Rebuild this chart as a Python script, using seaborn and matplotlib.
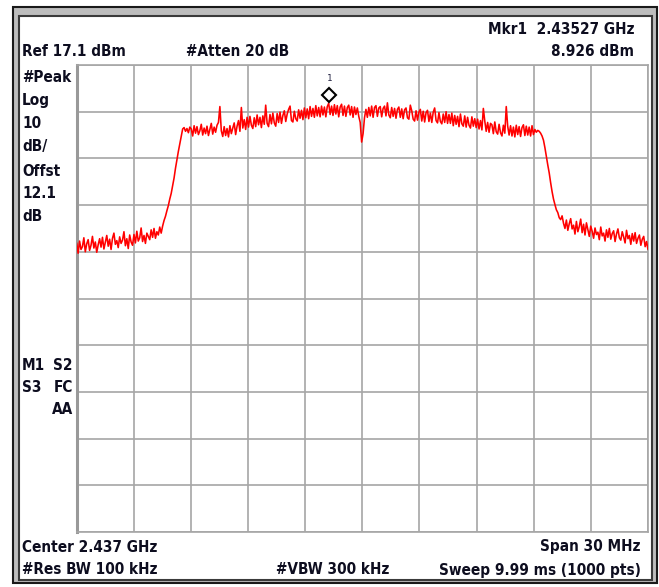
import numpy as np
import pandas as pd
import matplotlib
matplotlib.use('Agg')
import matplotlib.pyplot as plt
import matplotlib.transforms as mtransforms
from matplotlib.patches import Rectangle
from matplotlib import font_manager
import seaborn as sns

# Spectrum analyzer settings
center_ghz = 2.437
span_mhz = 30
ref_dbm = 17.1
db_per_div = 10
mkr_freq = 2.43527
mkr_level = 8.926

# Trace levels in dBm, 400 samples across the span
level = [
    -21.0, -23.2, -20.6, -22.4, -21.8, -19.9, -22.9, -21.2, -20.3, -22.6, -21.5, -19.6, -22.1, -20.8, -23.0, -21.4, -20.1, -21.9, -19.8, -22.3,
    -20.9, -19.4, -21.7, -20.2, -22.4, -20.0, -18.9, -21.3, -20.5, -22.0, -19.7, -21.1, -20.4, -18.6, -21.6, -20.1, -22.2, -19.3, -20.8, -21.5,
    -19.2, -21.0, -18.5, -20.6, -19.9, -17.8, -20.7, -19.4, -21.1, -18.9, -19.6, -20.3, -18.2, -19.8, -17.9, -20.0, -18.6, -19.3, -17.6, -18.9,
    -17.4, -16.2, -15.3, -14.1, -13.0, -11.6, -10.4, -8.8, -7.1, -5.0, -3.2, -1.4, 0.2, 1.9, 3.4, 3.7, 2.9, 3.5, 2.6, 3.8,
    3.4, 1.9, 4.1, 2.5, 3.9, 2.2, 3.0, 4.4, 2.1, 3.6, 2.4, 4.0, 2.0, 3.3, 4.6, 2.3, 3.8, 2.7, 4.2, 4.8,
    8.2, 3.0, 1.8, 3.9, 2.0, 3.5, 1.7, 4.1, 2.4, 3.6, 4.7, 2.2, 4.0, 5.2, 2.9, 8.0, 3.6, 5.4, 3.3, 5.9,
    3.8, 6.1, 4.2, 3.5, 5.8, 3.9, 6.4, 4.3, 5.9, 3.7, 6.2, 4.4, 8.5, 4.6, 3.9, 6.5, 4.5, 6.8, 4.7, 4.0,
    6.7, 4.8, 7.0, 4.6, 6.3, 7.3, 5.0, 6.6, 7.6, 8.3, 5.2, 4.9, 7.2, 5.6, 5.1, 7.5, 5.7, 7.4, 5.4, 7.9,
    5.8, 7.7, 5.6, 8.2, 6.1, 7.8, 5.9, 8.4, 6.2, 8.0, 6.0, 8.3, 6.4, 8.1, 6.0, 8.2, 8.9, 6.5, 8.3, 6.3,
    8.6, 6.6, 8.4, 6.0, 8.1, 8.7, 6.3, 8.3, 6.1, 8.0, 8.5, 6.4, 8.2, 5.9, 8.1, 6.5, 7.9, 6.1, 4.8, 0.6,
    2.4, 5.8, 7.6, 5.9, 8.0, 6.2, 8.3, 5.9, 8.0, 8.4, 6.1, 7.9, 8.2, 6.0, 7.8, 8.3, 6.2, 9.0, 6.4, 5.8,
    8.0, 6.1, 7.8, 5.7, 7.6, 8.1, 5.9, 7.7, 5.6, 7.5, 7.9, 5.8, 5.5, 8.5, 7.3, 5.5, 5.1, 7.3, 5.3, 7.0,
    7.6, 5.1, 7.2, 4.9, 6.9, 7.4, 5.0, 6.8, 4.8, 7.0, 7.9, 5.2, 4.7, 6.9, 5.0, 4.5, 6.6, 4.8, 7.1, 4.6,
    6.5, 4.6, 6.8, 4.1, 6.3, 4.4, 6.1, 3.9, 6.6, 4.5, 4.0, 6.2, 3.8, 5.9, 4.2, 3.6, 6.0, 4.0, 5.6, 3.7,
    5.5, 3.4, 5.2, 3.2, 7.8, 5.1, 2.9, 4.8, 2.7, 4.6, 4.3, 2.4, 4.9, 2.8, 2.3, 4.4, 2.6, 1.9, 4.2, 2.5,
    8.2, 4.0, 2.1, 4.1, 1.9, 3.8, 1.7, 4.2, 2.2, 3.9, 1.8, 3.7, 4.3, 2.0, 4.0, 2.1, 3.8, 1.9, 4.1, 2.2,
    3.3, 2.7, 3.1, 2.9, 2.5, 1.9, 1.0, -0.6, -2.5, -4.3, -6.0, -8.1, -10.0, -11.6, -12.8, -13.9, -14.5, -15.6, -16.0, -15.2,
    -16.8, -17.9, -16.1, -18.3, -16.9, -15.8, -18.0, -17.2, -19.1, -16.4, -18.6, -17.5, -15.9, -18.8, -17.0, -19.3, -16.7, -18.1, -19.6, -17.4,
    -18.5, -20.0, -17.8, -19.2, -18.7, -20.3, -17.6, -19.5, -18.9, -20.6, -18.2, -19.8, -17.9, -20.2, -19.0, -18.4, -20.7, -19.1, -18.0, -19.9,
    -20.4, -18.6, -19.7, -21.0, -18.3, -20.1, -19.4, -21.3, -19.0, -20.6, -18.8, -21.1, -20.0, -19.3, -21.5, -20.2, -19.6, -21.8, -20.7, -22.4,
]

f_start = center_ghz - span_mhz / 2 / 1000
f_stop = center_ghz + span_mhz / 2 / 1000
freq = np.linspace(f_start, f_stop, len(level))
df = pd.DataFrame({'freq': freq, 'level': level})

sns.set_style('white')
names = {f.name for f in font_manager.fontManager.ttflist}
if 'Liberation Sans Narrow' in names:
    txt_font = ['Liberation Sans Narrow', 'DejaVu Sans']
    txt_stretch = 'normal'
else:
    txt_font = ['DejaVu Sans']
    txt_stretch = 'condensed'
plt.rcParams['font.family'] = txt_font

W, H = 659, 587
fig = plt.figure(figsize=(W / 100, H / 100), dpi=100)

# instrument frame
def px_rect(x0, y0, x1, y1, **kw):
    return Rectangle((x0 / W, 1 - y1 / H), (x1 - x0) / W, (y1 - y0) / H,
                     transform=fig.transFigure, **kw)

fig.patches.append(px_rect(12.5, 6.5, 656.5, 583, facecolor='#bdbdbd', edgecolor='#1a1a1a', lw=1.5, zorder=-10))
fig.patches.append(px_rect(18.5, 15.5, 652, 580, facecolor='white', edgecolor='#3a3a3a', lw=1.5, zorder=-9))

ax = fig.add_axes([76.7 / W, (H - 532) / H, 571.3 / W, 467 / H])
ax.set_zorder(5)
sns.lineplot(data=df, x='freq', y='level', color='#ff0000', lw=1.15, ax=ax, zorder=3)

bottom = ref_dbm - 10 * db_per_div
ax.set_xlim(f_start, f_stop)
ax.set_ylim(bottom, ref_dbm)
ax.set_xticks(np.linspace(f_start, f_stop, 11))
ax.set_yticks(np.linspace(bottom, ref_dbm, 11))
ax.set_xticklabels([])
ax.set_yticklabels([])
ax.tick_params(length=0)
ax.set_xlabel('')
ax.set_ylabel('')
ax.grid(True, color='#a6a6a6', lw=1.2)
for s in ax.spines.values():
    s.set_color('#a6a6a6')
    s.set_linewidth(1.2)
ax.spines['left'].set_linewidth(2.2)
ax.spines['left'].set_color('#999999')

# marker 1
shift = mtransforms.offset_copy(ax.transData, fig=fig, x=0, y=6, units='points')
ax.plot([mkr_freq], [mkr_level], marker='D', ms=7, mfc='white', mec='black', mew=1.5,
        transform=shift, zorder=5, clip_on=False)
ax.text(mkr_freq, mkr_level, '1', transform=mtransforms.offset_copy(ax.transData, fig=fig, x=0, y=18, units='points'),
        ha='center', va='center', fontsize=6.5, family='DejaVu Sans Mono', color='#202040')

# annotation text
tc = '#0d0d1f'
def label(x, y, s, ha='left'):
    fig.text(x / W, 1 - y / H, s, ha=ha, va='center', fontsize=11, fontweight='bold',
             color=tc, family=txt_font, stretch=txt_stretch)

label(634, 30, 'Mkr1  2.43527 GHz', ha='right')
label(22, 52, 'Ref 17.1 dBm')
label(186, 52, '#Atten 20 dB')
label(634, 52, '8.926 dBm', ha='right')
for yy, s in zip([77, 100, 123, 147, 171, 194, 216],
                 ['#Peak', 'Log', '10', 'dB/', 'Offst', '12.1', 'dB']):
    label(22, yy, s)
label(22, 365, 'M1')
label(73, 365, 'S2', ha='right')
label(22, 388, 'S3')
label(73, 388, 'FC', ha='right')
label(73, 410, 'AA', ha='right')
label(22, 547, 'Center 2.437 GHz')
label(641, 547, 'Span 30 MHz', ha='right')
label(22, 570, '#Res BW 100 kHz')
label(276, 570, '#VBW 300 kHz')
label(641, 570, 'Sweep 9.99 ms (1000 pts)', ha='right')

fig.savefig('out.png', dpi=100)
